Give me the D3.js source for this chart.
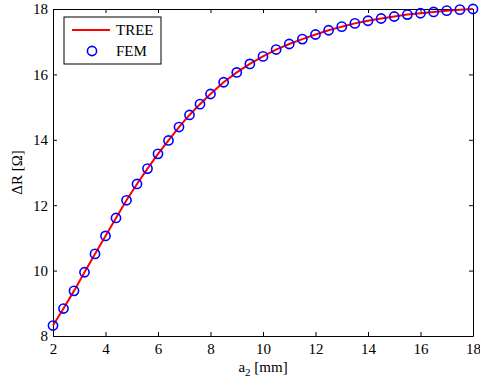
<!DOCTYPE html>
<html>
<head>
<meta charset="utf-8">
<script src="https://cdn.jsdelivr.net/npm/d3@7"></script>
<style>
  body { margin: 0; background: #fff; }
  svg { display: block; }
  .axis path, .axis line { stroke: #000; stroke-width: 1; }
</style>
</head>
<body>
<div id="chart"></div>
<script>
// data
const a2 = [2, 2.4, 2.8, 3.2, 3.6, 4.0, 4.4, 4.8, 5.2, 5.6, 6.0, 6.4, 6.8, 7.2, 7.6, 8.0,
  8.5, 9, 9.5, 10, 10.5, 11, 11.5, 12, 12.5, 13, 13.5, 14, 14.5, 15, 15.5, 16, 16.5, 17, 17.5, 18];
const treeVals = [8.32, 8.84, 9.38, 9.95, 10.51, 11.06, 11.61, 12.15, 12.65, 13.12, 13.57, 13.98, 14.39, 14.76, 15.09, 15.40,
  15.76, 16.06, 16.32, 16.55, 16.76, 16.93, 17.08, 17.22, 17.35, 17.46, 17.56, 17.64, 17.71, 17.77, 17.83, 17.87, 17.91, 17.95, 17.98, 18.0];
const femVals = treeVals.slice();
const xTicks = [2, 4, 6, 8, 10, 12, 14, 16, 18];
const yTicks = [8, 10, 12, 14, 16, 18];

const FONT = "Liberation Serif, Times New Roman, serif";
const W = 480, H = 384;
const margin = { top: 9, right: 7, bottom: 48, left: 53 };
const width = W - margin.left - margin.right;
const height = H - margin.top - margin.bottom;

const svg = d3.select("#chart").append("svg")
  .attr("width", W).attr("height", H)
  .attr("font-family", FONT);
const g = svg.append("g")
  .attr("transform", `translate(${margin.left},${margin.top})`);

const x = d3.scaleLinear().domain([2, 18]).range([0, width]);
const y = d3.scaleLinear().domain([8, 18]).range([height, 0]);

// axes (MATLAB style box, inward ticks)
const xAxis = g.append("g").attr("class", "axis")
  .attr("transform", `translate(0,${height})`)
  .call(d3.axisBottom(x).tickValues(xTicks).tickSize(-4).tickSizeOuter(0).tickPadding(7));
const yAxis = g.append("g").attr("class", "axis")
  .call(d3.axisLeft(y).tickValues(yTicks).tickSize(-4).tickSizeOuter(0).tickPadding(5));
g.append("g").attr("class", "axis")
  .call(d3.axisTop(x).tickValues(xTicks).tickSize(-4).tickSizeOuter(0).tickFormat(""));
g.append("g").attr("class", "axis")
  .attr("transform", `translate(${width},0)`)
  .call(d3.axisRight(y).tickValues(yTicks).tickSize(-4).tickSizeOuter(0).tickFormat(""));

g.selectAll(".axis").attr("font-family", FONT).attr("font-size", 15);
g.selectAll(".axis text").attr("fill", "#000");

// TREE line
const line = d3.line().x((d, i) => x(a2[i])).y(d => y(d));
g.append("path")
  .datum(treeVals)
  .attr("d", line)
  .attr("fill", "none")
  .attr("stroke", "#ff0000")
  .attr("stroke-width", 2);

// FEM markers
g.selectAll(".fem")
  .data(femVals)
  .enter().append("circle")
  .attr("class", "fem")
  .attr("cx", (d, i) => x(a2[i]))
  .attr("cy", d => y(d))
  .attr("r", 4.6)
  .attr("fill", "none")
  .attr("stroke", "#0000ff")
  .attr("stroke-width", 1.6);

// axis labels
svg.append("text")
  .attr("x", margin.left + width / 2)
  .attr("y", 372)
  .attr("text-anchor", "middle")
  .attr("font-size", 15)
  .html('a<tspan dy="4" font-size="11">2</tspan><tspan dy="-4"> [mm]</tspan>');

svg.append("text")
  .attr("transform", `translate(22,${margin.top + height / 2}) rotate(-90)`)
  .attr("text-anchor", "middle")
  .attr("font-size", 15)
  .text("ΔR [Ω]");

// legend
const legend = svg.append("g").attr("transform", "translate(64,17)");
legend.append("rect")
  .attr("width", 97).attr("height", 47)
  .attr("fill", "#fff").attr("stroke", "#000").attr("stroke-width", 1);
legend.append("line")
  .attr("x1", 8).attr("x2", 46).attr("y1", 13).attr("y2", 13)
  .attr("stroke", "#ff0000").attr("stroke-width", 2);
legend.append("circle")
  .attr("cx", 28).attr("cy", 34).attr("r", 4.6)
  .attr("fill", "none").attr("stroke", "#0000ff").attr("stroke-width", 1.6);
legend.append("text").attr("x", 52).attr("y", 18).attr("font-size", 15).text("TREE");
legend.append("text").attr("x", 52).attr("y", 39).attr("font-size", 15).text("FEM");
</script>
</body>
</html>
